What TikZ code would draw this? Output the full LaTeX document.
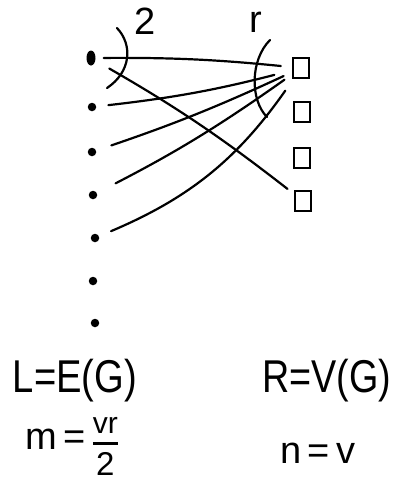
\documentclass[tikz,border=0pt]{standalone}
\usepackage{fontspec}
\usepackage{amsmath}
\setmainfont{Liberation Sans}
\usetikzlibrary{shapes.geometric}
\begin{document}
\begin{tikzpicture}[x=1pt,y=-1pt,
  ink/.style={line width=2.2pt,line cap=round,line join=round},
  dot/.style={circle,fill=black,inner sep=0pt,minimum size=8.5pt},
  bigdot/.style={ellipse,fill=black,inner sep=0pt,minimum width=9pt,minimum height=15pt},
  vbox/.style={draw,line width=2.4pt,inner sep=0pt,minimum width=16pt,minimum height=20pt},
  edge/.style={ink},
  big/.style={inner sep=0pt,font=\fontsize{46}{48}\selectfont},
  lbl/.style={inner sep=0pt,font=\fontsize{38}{40}\selectfont}]
\useasboundingbox (0,0) rectangle (392,483);
% left vertices (edges of G)
\node[bigdot] (d1) at (91,58) {};
\node[dot] (d2) at (92,107) {};
\node[dot] (d3) at (92,152) {};
\node[dot] (d4) at (93,195) {};
\node[dot] (d5) at (95,238) {};
\node[dot] (d6) at (93,281) {};
\node[dot] (d7) at (95,323) {};
% right vertices
\node[vbox] (s1) at (301,68) {};
\node[vbox] (s2) at (302,112) {};
\node[vbox] (s3) at (302,158) {};
\node[vbox] (s4) at (303,201) {};
% edges
\draw[edge,shorten <=8pt,shorten >=11pt] (d1) to[bend left=3] (s1);
\draw[edge,shorten <=16pt,shorten >=8pt] (d1) to[bend left=4] (s4);
\draw[edge,shorten <=12pt,shorten >=18pt] (d2) to[bend right=4] (s1);
\draw[edge,shorten <=16pt,shorten >=9pt] (d3) to[bend right=3] (s1);
\draw[edge,shorten <=21pt,shorten >=9pt] (d4) to[bend right=4] (s1);
\draw[edge,shorten <=13pt,shorten >=14pt] (d5) to[bend right=16] (s1);
% degree arcs
\draw[ink] (117,28) .. controls (133,45) and (131,72) .. (107,88);
\draw[ink] (270,40) .. controls (250,60) and (250,100) .. (267,117);
\node[lbl] (two) at (145,21) {2};
\node[lbl] (r) at (256,22) {r};
% labels
\node[big] (L) at (75,381) {\scalebox{0.83}[1]{L=E(G)}};
\node[big] (R) at (327,381) {\scalebox{0.82}[1]{R=V(G)}};
\node[inner sep=0pt,font=\fontsize{38}{40}\selectfont] (m) at (72,446)
  {m\,=\,$\genfrac{}{}{2.4pt}{0}{\text{\fontsize{30}{32}\selectfont vr}}{\text{\fontsize{33}{35}\selectfont 2}}$};
\node[inner sep=0pt,font=\fontsize{38}{40}\selectfont] (n) at (318,453) {n\,=\,v};
\end{tikzpicture}
\end{document}
